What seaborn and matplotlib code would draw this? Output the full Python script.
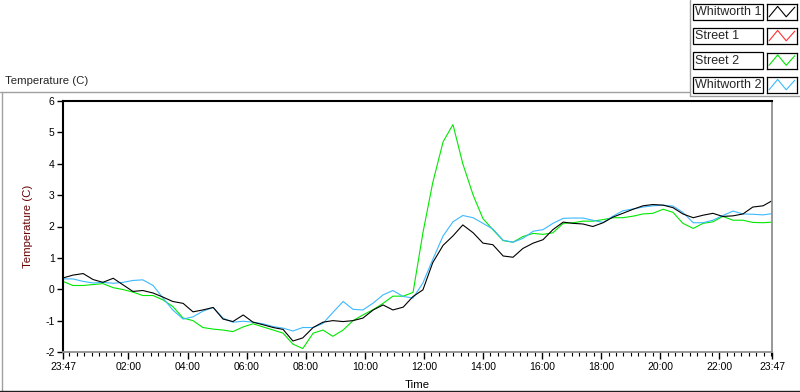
"""
Temperature log, four sensors, 24 h from 23:47 to 23:47
"""
import numpy as np
import pandas as pd
import matplotlib
matplotlib.use("Agg")
import matplotlib.pyplot as plt
import matplotlib.ticker as ticker
from matplotlib.lines import Line2D
from matplotlib.patches import Rectangle
import seaborn as sns

W, H = 800, 392

SENSORS = ["Whitworth 1", "Street 1", "Street 2", "Whitworth 2"]
COLORS = {"Whitworth 1": "#000000", "Street 1": "#ff3030",
          "Street 2": "#00e800", "Whitworth 2": "#3cb8ff"}

# minutes after the 23:47 start
minutes = [0, 20, 41, 61, 81, 102, 122, 142, 162, 183, 203, 223, 244, 264, 284, 305,
           325, 345, 366, 386, 406, 427, 447, 467, 487, 508, 528, 548, 569, 589, 609,
           630, 650, 670, 691, 711, 731, 751, 772, 792, 812, 833, 853, 873, 894, 914,
           934, 955, 975, 995, 1016, 1036, 1056, 1076, 1097, 1117, 1137, 1158, 1178,
           1198, 1219, 1239, 1259, 1280, 1300, 1320, 1340, 1361, 1381, 1401, 1422, 1440]

whitworth1 = [0.36, 0.45, 0.50, 0.31, 0.22, 0.35, 0.14, -0.07, -0.04, -0.12,
              -0.25, -0.39, -0.45, -0.72, -0.66, -0.58, -0.95, -1.03, -0.82, -1.05,
              -1.13, -1.22, -1.28, -1.65, -1.55, -1.22, -1.05, -1.00, -1.03, -1.00,
              -0.92, -0.66, -0.50, -0.66, -0.57, -0.23, -0.02, 0.85, 1.40, 1.70,
              2.05, 1.80, 1.47, 1.42, 1.06, 1.02, 1.30, 1.47, 1.58, 1.90,
              2.14, 2.10, 2.08, 2.00, 2.12, 2.30, 2.42, 2.55, 2.66, 2.70,
              2.68, 2.60, 2.40, 2.28, 2.36, 2.42, 2.32, 2.34, 2.40, 2.62,
              2.66, 2.82]

street1 = []  # no readings

street2 = [0.25, 0.12, 0.12, 0.15, 0.18, 0.05, -0.01, -0.09, -0.20, -0.20,
           -0.34, -0.55, -0.92, -1.00, -1.22, -1.27, -1.30, -1.35, -1.20, -1.10,
           -1.20, -1.30, -1.40, -1.75, -1.89, -1.40, -1.30, -1.50, -1.30, -1.00,
           -0.82, -0.65, -0.45, -0.22, -0.22, -0.10, 1.80, 3.40, 4.70, 5.25,
           4.00, 3.00, 2.25, 1.90, 1.55, 1.50, 1.68, 1.78, 1.75, 1.80,
           2.10, 2.12, 2.17, 2.17, 2.22, 2.28, 2.28, 2.33, 2.40, 2.42,
           2.55, 2.45, 2.10, 1.94, 2.10, 2.15, 2.32, 2.20, 2.20, 2.13,
           2.12, 2.14]

whitworth2 = [0.33, 0.33, 0.25, 0.20, 0.22, 0.19, 0.22, 0.28, 0.30, 0.12,
              -0.28, -0.66, -0.95, -0.88, -0.70, -0.58, -0.92, -1.05, -1.02, -1.05,
              -1.10, -1.19, -1.24, -1.33, -1.22, -1.22, -1.09, -0.74, -0.39, -0.64,
              -0.66, -0.44, -0.18, -0.04, -0.23, -0.28, 0.20, 0.95, 1.70, 2.15,
              2.35, 2.28, 2.10, 1.92, 1.56, 1.50, 1.62, 1.85, 1.90, 2.10,
              2.26, 2.27, 2.27, 2.20, 2.13, 2.33, 2.50, 2.56, 2.62, 2.66,
              2.68, 2.65, 2.45, 2.12, 2.12, 2.20, 2.35, 2.49, 2.40, 2.39,
              2.37, 2.41]

tick_minutes = [0, 133, 253, 373, 493, 613, 733, 853, 973, 1093, 1213, 1333, 1440]
tick_labels = ["23:47", "02:00", "04:00", "06:00", "08:00", "10:00", "12:00",
               "14:00", "16:00", "18:00", "20:00", "22:00", "23:47"]

sns.set_style("white")
plt.rcParams["font.family"] = ["Liberation Sans", "DejaVu Sans"]
plt.rcParams["axes.unicode_minus"] = False


def fx(px):
    return px / W


def fy(py):
    return 1 - py / H


rows = []
for name, vals in [("Whitworth 1", whitworth1), ("Street 1", street1),
                   ("Street 2", street2), ("Whitworth 2", whitworth2)]:
    for m, v in zip(minutes, vals):
        rows.append({"minute": m, "temp": v, "sensor": name})
df = pd.DataFrame(rows)

fig = plt.figure(figsize=(W / 100, H / 100), dpi=100, facecolor="white")
ax = fig.add_axes([fx(63), fy(352), fx(772) - fx(63), fy(101) - fy(352)])

# draw order: green, blue, black on top
for name in ["Street 2", "Whitworth 2", "Whitworth 1"]:
    sns.lineplot(data=df[df["sensor"] == name], x="minute", y="temp",
                 color=COLORS[name], lw=0.8, estimator=None, ax=ax, legend=False)

ax.set_xlim(0, 1440)
ax.set_ylim(-2, 6)
ax.set_yticks(range(-2, 7))
ax.set_yticklabels([str(v) for v in range(-2, 7)])
ax.set_xticks(tick_minutes)
ax.set_xticklabels(tick_labels)
ax.xaxis.set_minor_locator(ticker.FixedLocator(np.arange(13, 1440, 15)))

ax.tick_params(axis="both", which="major", direction="out", length=4, width=1,
               color="black", labelsize=7.5, labelcolor="black")
ax.tick_params(axis="x", which="major", length=5, pad=2)
ax.tick_params(axis="x", which="minor", direction="out", length=3, width=0.8, color="black")
ax.tick_params(axis="y", pad=2, left=True)
ax.tick_params(axis="x", bottom=True, which="both")

for side in ["left", "top"]:
    ax.spines[side].set_color("black")
    ax.spines[side].set_linewidth(1.5)
for side in ["right", "bottom"]:
    ax.spines[side].set_color("#909090")
    ax.spines[side].set_linewidth(1.3)

ax.set_ylabel("Temperature (C)", fontsize=8.2, color="#6a0000")
ax.yaxis.set_label_coords(-0.042, 0.5)
ax.set_xlabel("Time", fontsize=8.2, color="black")
ax.xaxis.set_label_coords(0.5, -0.11)

# panel caption and frame
fig.text(fx(5), fy(81), "Temperature (C)", fontsize=8.2, ha="left", va="center")
frame = [((0, 689), (91.5, 91.5), "#a0a0a0"),
         ((1.5, 1.5), (91.5, 392), "#a0a0a0"),
         ((0, 800), (390.5, 390.5), "#202020"),
         ((689.5, 689.5), (0, 95.5), "#a0a0a0"),
         ((689.5, 800), (95.5, 95.5), "#a0a0a0")]
for xs, ys, c in frame:
    fig.add_artist(Line2D([fx(xs[0]), fx(xs[1])], [fy(ys[0]), fy(ys[1])],
                          transform=fig.transFigure, color=c, lw=1.0))

# legend panel
tops = [4, 28, 52.5, 77]
for name, top in zip(SENSORS, tops):
    fig.add_artist(Rectangle((fx(692.5), fy(top + 16)), fx(762.5) - fx(692.5),
                             fy(top) - fy(top + 16), transform=fig.transFigure,
                             facecolor="white", edgecolor="black", lw=0.9))
    fig.text(fx(695), fy(top + 8), name, fontsize=9, ha="left", va="center")
    sw = fig.add_axes([fx(766.5), fy(top + 16), fx(796.5) - fx(766.5), fy(top) - fy(top + 16)])
    sw.plot([0, 1, 2, 3], [0.2, 0.85, 0.2, 0.8], color=COLORS[name], lw=0.8)
    sw.set_xlim(-0.3, 3.2)
    sw.set_ylim(0, 1)
    sw.set_xticks([])
    sw.set_yticks([])
    for s in sw.spines.values():
        s.set_color("black")
        s.set_linewidth(0.9)

fig.savefig("out.png", dpi=100, facecolor="white")
plt.close(fig)
